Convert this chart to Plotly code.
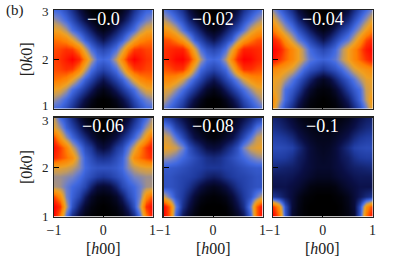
import numpy as np
import plotly.graph_objects as go

h_half = [-1, -0.875, -0.75, -0.625, -0.5, -0.375, -0.25, -0.125, 0]
k_vals = [3.0, 2.8, 2.6, 2.4, 2.2, 2.0, 1.8, 1.6, 1.4, 1.2, 1.0]
k_ticks = [1, 2, 3]
labels = ["\u22120.0", "\u22120.02", "\u22120.04", "\u22120.06", "\u22120.08", "\u22120.1"]

p0 = [[38,36,30,22,12,5,1,0,0],
      [50,45,38,30,20,12,5,1,0],
      [62,60,52,40,32,24,16,8,4],
      [78,76,72,62,48,36,28,20,14],
      [84,85,88,86,74,55,40,32,28],
      [86,88,94,100,90,72,54,40,37],
      [84,85,88,86,74,55,40,32,28],
      [78,76,72,62,48,36,28,20,14],
      [62,60,52,40,32,24,16,8,4],
      [50,45,38,30,20,12,5,1,0],
      [38,36,30,22,12,5,1,0,0]]
p1 = [[42,36,30,22,12,5,1,0,0],
      [54,48,40,31,20,12,5,1,0],
      [68,64,56,42,32,24,16,8,4],
      [84,82,76,66,52,36,28,20,14],
      [88,90,92,92,78,58,40,32,28],
      [88,92,98,100,90,72,52,40,37],
      [82,84,88,88,74,54,38,32,28],
      [72,72,68,58,46,36,28,20,14],
      [60,58,50,40,32,24,16,8,4],
      [54,46,38,30,20,12,5,1,0],
      [42,36,30,22,12,5,1,0,0]]
p2 = [[48,38,30,21,11,5,1,0,0],
      [62,50,40,31,20,12,5,1,0],
      [76,64,52,42,32,24,16,8,4],
      [92,84,70,56,44,36,28,20,14],
      [100,94,82,72,62,50,38,32,28],
      [96,88,80,72,62,52,42,38,36],
      [72,68,64,58,48,38,32,28,24],
      [62,60,52,42,34,26,18,10,6],
      [62,56,40,34,26,16,8,3,2],
      [70,54,38,28,17,9,3,1,0],
      [66,44,30,20,10,4,1,0,0]]
p3 = [[54,38,30,20,10,4,1,0,0],
      [60,50,36,28,18,9,4,1,0],
      [84,66,50,38,28,20,12,6,3],
      [96,86,74,56,42,30,24,14,10],
      [90,84,78,70,50,36,30,24,22],
      [60,60,58,54,48,38,34,32,32],
      [50,50,48,46,40,34,30,26,24],
      [52,50,44,38,34,28,18,10,8],
      [84,70,46,36,28,16,7,3,2],
      [100,88,54,32,18,8,3,1,0],
      [98,74,40,20,9,3,1,0,0]]
p4 = [[28,24,18,12,7,3,1,0,0],
      [46,40,28,20,12,6,2,1,0],
      [58,54,42,30,20,12,8,4,2],
      [62,60,56,46,32,24,18,12,10],
      [50,48,44,38,34,30,26,22,20],
      [34,34,33,31,29,27,26,24,24],
      [32,32,30,28,27,25,22,18,16],
      [32,32,30,27,23,17,11,7,5],
      [56,44,32,25,17,9,4,2,1],
      [98,80,44,22,12,5,1,0,0],
      [100,80,36,14,6,2,0,0,0]]
p5 = [[18,16,13,9,5,3,2,2,2],
      [22,20,17,13,9,6,4,3,3],
      [27,26,24,20,14,10,7,5,5],
      [30,30,29,27,21,15,10,7,6],
      [26,26,25,22,17,14,10,8,7],
      [20,19,18,17,15,12,10,8,8],
      [15,15,15,14,12,10,8,6,6],
      [13,13,13,11,9,6,3,2,2],
      [24,20,15,10,5,2,1,0,0],
      [88,68,32,10,4,1,0,0,0],
      [100,78,34,8,3,1,0,0,0]]
panels = [p0, p1, p2, p3, p4, p5]

cs = [[0, "#000000"], [0.12, "#0a0f45"], [0.25, "#1f3a9e"], [0.38, "#4169e1"],
      [0.45, "#6f80c8"], [0.54, "#c09a60"], [0.62, "#f0a020"], [0.75, "#ff8000"],
      [0.88, "#ff3000"], [1, "#ff0000"]]

W, H = 410, 264
xd = [(54, 152.5), (163.5, 262.5), (273, 372.5)]
yd = [(10, 108.5), (117.5, 216.5)]
font = "Liberation Serif"
ink = "#222222"
fig = go.Figure()
h_full = h_half + [-v for v in h_half[-2::-1]]
for i, p in enumerate(panels):
    r, c = divmod(i, 3)
    a = np.array(p, float)
    z = np.hstack([a, a[:, -2::-1]])
    s = "" if i == 0 else str(i + 1)
    fig.add_trace(go.Heatmap(x=h_full, y=k_vals, z=z, zmin=0, zmax=100, colorscale=cs,
                             showscale=False, zsmooth="best", xaxis="x" + s, yaxis="y" + s))
    ax = dict(mirror=True, showline=True, linecolor=ink, linewidth=1.2, ticks="inside",
              ticklen=5, tickwidth=1, tickcolor="#000000", showgrid=False, zeroline=False,
              automargin=False, tickfont=dict(family=font, size=14, color=ink))
    xa = dict(ax, domain=[xd[c][0] / W, xd[c][1] / W], range=[-1, 1], anchor="y" + s,
              tickvals=[-1, 0, 1], ticktext=["\u22121", "0", "1"], showticklabels=r == 1)
    ya = dict(ax, domain=[1 - yd[r][1] / H, 1 - yd[r][0] / H], range=[1, 3], anchor="x" + s,
              tickvals=k_ticks, showticklabels=False)
    fig.layout["xaxis" + s] = xa
    fig.layout["yaxis" + s] = ya
    fig.add_annotation(x=0, y=2.82, xref="x" + s, yref="y" + s, text=labels[i], showarrow=False,
                       xanchor="center", yanchor="middle",
                       font=dict(family=font, size=18, color="white"))
    if r == 1:
        fig.add_annotation(x=sum(xd[c]) / 2 / W, y=1 - 248 / H, xref="paper", yref="paper",
                           xanchor="center", yanchor="middle",
                           text="[<i>h</i>00]", showarrow=False, font=dict(family=font, size=16, color=ink))
    if c == 0:
        fig.add_annotation(x=26 / W, y=1 - sum(yd[r]) / 2 / H, xref="paper", yref="paper", textangle=-90,
                           xanchor="center", yanchor="middle",
                           text="[0<i>k</i>0]", showarrow=False, font=dict(family=font, size=16, color=ink))
        for t in k_ticks:
            shift = {(0, 1): 3, (0, 3): -2, (1, 3): -3}.get((r, t), 0)
            fig.add_annotation(x=45 / W, y=t, xref="paper", yref="y" + s, yshift=shift, text=str(t),
                               showarrow=False, xanchor="center", yanchor="middle", borderpad=0, borderwidth=0,
                               font=dict(family=font, size=13, color=ink))
fig.add_annotation(x=4 / W, y=1 - 11 / H, xref="paper", yref="paper", text="(b)", showarrow=False,
                   xanchor="left", yanchor="middle", font=dict(family=font, size=15, color=ink))
fig.update_layout(width=W, height=H, margin=dict(l=0, r=0, t=0, b=0), paper_bgcolor="white",
                  plot_bgcolor="white", showlegend=False)
fig.write_html("out.html", config={"displayModeBar": False, "staticPlot": True},
               post_script="document.body.style.margin='0';document.documentElement.style.overflow='hidden';")
